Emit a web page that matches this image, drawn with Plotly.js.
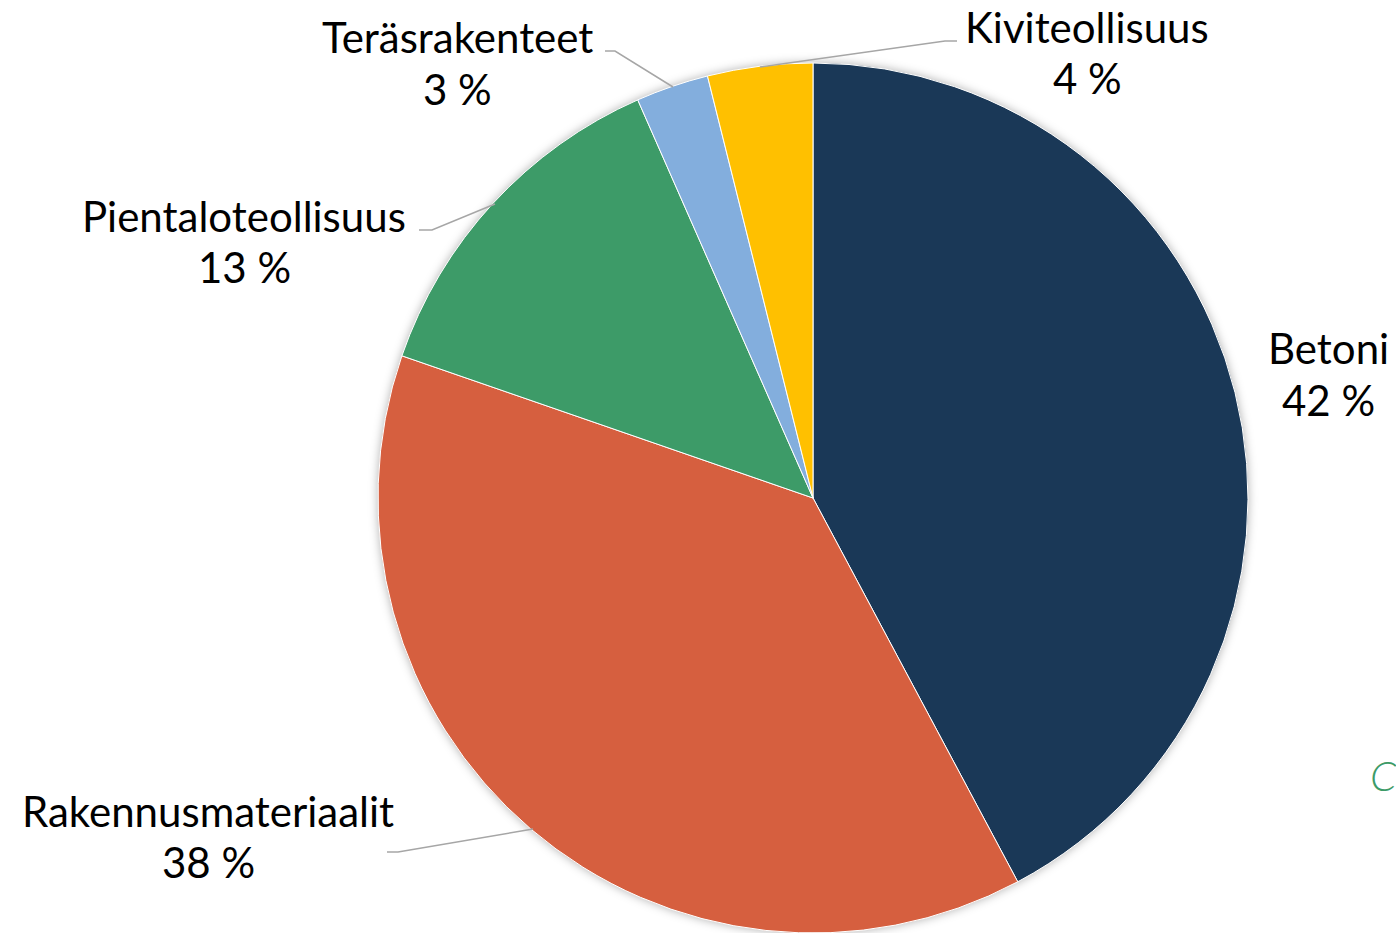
<!DOCTYPE html>
<html>
<head>
<meta charset="utf-8">
<script src="https://cdn.plot.ly/plotly-3.0.1.min.js"></script>
<style>
  html, body { margin: 0; padding: 0; background: #fff; }
  #chart { width: 1396px; height: 933px; }
  .pielayer { filter: drop-shadow(0 0 5px rgba(0,0,0,0.30)); }
</style>
</head>
<body>
<div id="chart"></div>
<script>
// slice data, clockwise from 12 o'clock
let labels = ["Betoni", "Rakennusmateriaalit", "Pientaloteollisuus", "Teräsrakenteet", "Kiviteollisuus"];
let values = [42.2, 38.1, 13.1, 2.7, 3.9];
let colors = ["#1A3857", "#D65F3F", "#3D9B68", "#83AEDD", "#FFC000"];

// label spots (px), name line and percent line
let labelX = [1328, 208, 244, 457, 1087];
let nameY = [348, 811, 216, 37, 27];
let pctY = [400, 862, 267, 89, 78];

const W = 1396, H = 933;
const fx = (x) => x / W;
const fy = (y) => 1 - y / H;

let total = values.reduce((a, b) => a + b, 0);

let data = [{
  type: "pie",
  labels: labels,
  values: values,
  sort: false,
  direction: "clockwise",
  rotation: 0,
  textinfo: "none",
  hoverinfo: "label+percent",
  marker: { colors: colors, line: { color: "#ffffff", width: 1 } },
  domain: { x: [fx(378), fx(1248)], y: [0, fy(63)] },
  showlegend: false
}];

let annotations = [];
let font = { family: "Lato, 'Open Sans', sans-serif", size: 42, color: "#000000" };
for (let i = 0; i < labels.length; i++) {
  annotations.push({
    xref: "paper", yref: "paper", x: fx(labelX[i]), y: fy(nameY[i]),
    xanchor: "center", yanchor: "middle", showarrow: false,
    text: labels[i], font: font
  });
  annotations.push({
    xref: "paper", yref: "paper", x: fx(labelX[i]), y: fy(pctY[i]),
    xanchor: "center", yanchor: "middle", showarrow: false,
    text: Math.round(values[i] / total * 100) + " %", font: font
  });
}
// cut-off text at the right edge
annotations.push({
  xref: "paper", yref: "paper", x: fx(1368), y: fy(775),
  xanchor: "left", yanchor: "middle", showarrow: false,
  text: "<i>C</i>", font: { family: "Lato, sans-serif", size: 42, weight: 300, color: "#3D9B68" }
});

// leader lines
let leaders = [
  [[760, 67], [945, 41], [957, 41]],
  [[605, 51], [615, 51], [673, 87]],
  [[419, 230], [432, 230], [495, 204]],
  [[387, 852], [398, 852], [533, 829]]
];
let shapes = leaders.map((pts) => ({
  type: "path", xref: "paper", yref: "paper",
  path: pts.map((p, j) => (j == 0 ? "M" : "L") + fx(p[0]) + "," + fy(p[1])).join(" "),
  line: { color: "#A6A6A6", width: 1.5 }
}));

let layout = {
  width: W, height: H,
  margin: { l: 0, r: 0, t: 0, b: 0 },
  paper_bgcolor: "#ffffff",
  annotations: annotations,
  shapes: shapes
};

Plotly.newPlot("chart", data, layout, { displayModeBar: false, staticPlot: true });
</script>
</body>
</html>
